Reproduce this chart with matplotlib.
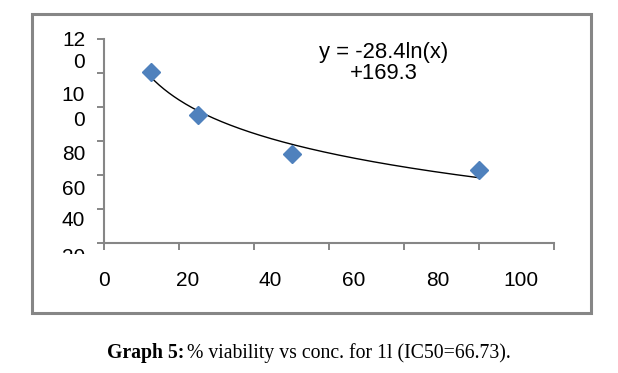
import numpy as np
import matplotlib

matplotlib.use("Agg")
import matplotlib.pyplot as plt
from matplotlib.patches import Rectangle
from matplotlib.transforms import Bbox, TransformedBbox, blended_transform_factory

# data
conc = [12.5, 25, 50, 100]
viability = [100.9, 75.4, 52.5, 43.2]
fit_slope = -28.4
fit_intercept = 169.3

x_tick_values = [0, 20, 40, 60, 80, 100, 120]
y_tick_values = [0, 20, 40, 60, 80, 100, 120]
x_label_values = [0, 20, 40, 60, 80, 100]
# the y labels are wrapped and shifted the way the original export shows them
y_label_lines = ["12", "0", "10", "0", "80", "60", "40", "20"]
y_label_pos = [119.1, 106.2, 86.6, 72.0, 51.9, 31.6, 13.1, -8.6]

caption_bold = "Graph 5:"
caption_rest = "% viability vs conc. for 1l (IC50=66.73)."

GREY = "#868686"
BLUE = "#4F81BD"
SANS = "Liberation Sans"
SERIF = "Liberation Serif"

fig = plt.figure(figsize=(6.18, 3.73), dpi=100)
ax = fig.add_axes([104 / 618, 1 - 243.3 / 373, 450 / 618, 204.3 / 373])

xs = np.linspace(min(conc), max(conc), 200)
ax.plot(xs, fit_slope * np.log(xs) + fit_intercept, color="black", lw=1.0, zorder=2)
ax.plot(conc, viability, ls="none", marker="D", ms=8.8, color=BLUE, mec=BLUE, zorder=3)

ax.set_xlim(0, 120)
ax.set_ylim(0, 120)
ax.set_xticks(x_tick_values)
ax.set_yticks(y_tick_values)
ax.set_xticklabels([])
ax.set_yticklabels([])
ax.tick_params(direction="out", length=5, width=1.4, color=GREY)
for side in ["top", "right"]:
    ax.spines[side].set_visible(False)
for side in ["left", "bottom"]:
    ax.spines[side].set_color(GREY)
    ax.spines[side].set_linewidth(1.5)

# x labels sit on a slightly compressed scale, like in the exported picture
sec = ax.secondary_xaxis("bottom", functions=(lambda x: x * 0.9, lambda s: s / 0.9))
sec.set_xticks(x_label_values)
sec.tick_params(length=0, pad=20, labelsize=15)
sec.spines["bottom"].set_visible(False)
for lab in sec.get_xticklabels():
    lab.set_fontfamily(SANS)

clip = TransformedBbox(Bbox([[0, (373 - 254) / 373], [1, 1]]), fig.transFigure)
trans = blended_transform_factory(ax.transAxes, ax.transData)
for txt, pos in zip(y_label_lines, y_label_pos):
    t = ax.text(-0.042, pos, txt, transform=trans, ha="right", va="center",
                fontsize=15, family=SANS, clip_on=True)
    t.set_clip_box(clip)

ax.text(0.622, 0.9315, "y = -28.4ln(x)", transform=ax.transAxes, ha="center",
        va="center", fontsize=15.8, family=SANS)
ax.text(0.622, 0.832, "+169.3", transform=ax.transAxes, ha="center",
        va="center", fontsize=15.8, family=SANS)

fig.patches.append(Rectangle((32 / 618, 1 - 313 / 373), 559 / 618, 299 / 373,
                             transform=fig.transFigure, fill=False,
                             edgecolor=GREY, lw=2.2))

cap_y = 1 - 353 / 373
t1 = fig.text(107 / 618, cap_y, caption_bold, ha="left", va="center",
              fontsize=14.2, family=SERIF, weight="bold")
r = fig.canvas.get_renderer()
ext = t1.get_window_extent(renderer=r)
fig.text((ext.x1 + 3) / 618, cap_y, caption_rest, ha="left", va="center",
         fontsize=14.2, family=SERIF)

fig.savefig("out.png", dpi=100)
